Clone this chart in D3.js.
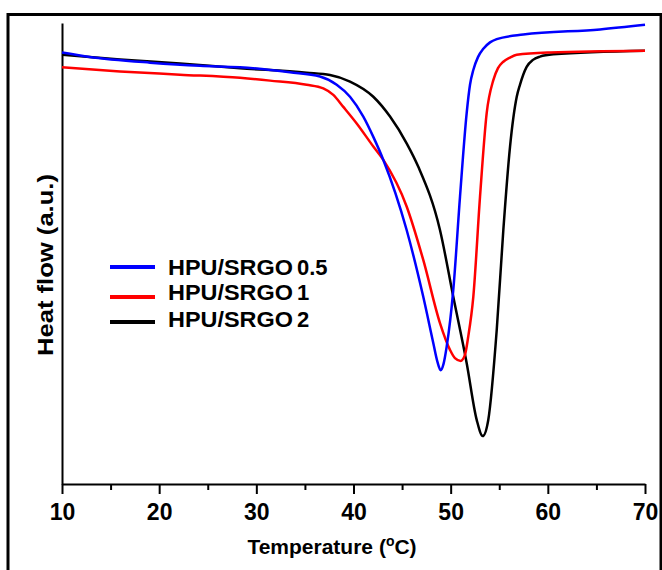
<!DOCTYPE html>
<html lang="en">
	<head>
		<meta charset="utf-8">
		<title>DSC curves</title>
		<script src="https://cdn.jsdelivr.net/npm/d3@7"></script>
		<style type="text/css">
			html, body {
				margin: 0;
				padding: 0;
				background-color: white;
			}
			text {
				font-family: "Liberation Sans", Arial, sans-serif;
				font-weight: bold;
			}
		</style>
	</head>
	<body>
		<script type="text/javascript">

			//Data (heat flow in arbitrary units, 0-100 across the axis)
			var labels = ["HPU/SRGO", "HPU/SRGO", "HPU/SRGO"];
			var loadings = ["0.5", "1", "2"];
			var xTicks = [10, 20, 30, 40, 50, 60, 70];
			var xMinorTicks = [15, 25, 35, 45, 55, 65];

			var temp05 = [10.00, 12.68, 19.06, 24.20, 28.32, 33.46, 36.55, 38.27, 39.64, 41.01, 42.04, 43.07, 45.47, 47.18, 48.21, 48.64, 48.97, 49.26, 49.59, 50.27, 50.96, 51.65, 51.99, 52.33, 52.81, 53.36, 54.05, 54.74, 57.47, 65.37, 70.00];
			var flow05 = [93.6, 92.7, 91.4, 90.7, 90.4, 89.3, 88.4, 86.6, 84.0, 79.7, 75.3, 70.3, 55.1, 40.6, 30.6, 26.5, 24.7, 26.0, 29.8, 42.1, 62.3, 80.5, 86.6, 89.8, 92.6, 94.4, 95.8, 96.5, 97.5, 98.6, 99.6];

			var temp1 = [10.00, 15.97, 22.14, 28.32, 31.41, 35.18, 36.89, 37.92, 38.95, 40.33, 42.04, 43.07, 45.47, 47.18, 48.90, 49.93, 50.44, 51.03, 51.47, 51.81, 52.33, 53.02, 53.71, 54.39, 54.87, 55.42, 56.11, 56.80, 60.22, 70.00];
			var flow1 = [90.4, 89.5, 88.8, 88.1, 87.5, 86.6, 85.8, 84.4, 81.8, 78.2, 73.2, 70.3, 60.2, 48.6, 34.9, 29.1, 27.3, 26.7, 28.0, 32.0, 40.6, 62.3, 80.5, 87.6, 90.2, 91.6, 92.5, 93.1, 93.6, 94.0];

			var temp2 = [10.00, 15.97, 22.14, 28.32, 35.18, 37.58, 39.64, 42.04, 43.76, 45.47, 46.67, 48.90, 50.27, 51.65, 52.68, 53.30, 53.87, 54.74, 55.42, 56.11, 56.80, 57.13, 57.82, 58.47, 59.19, 60.56, 70.00];
			var flow2 = [93.1, 92.1, 91.2, 90.2, 89.2, 88.7, 87.3, 84.0, 79.7, 73.9, 68.8, 55.1, 40.6, 26.2, 13.9, 10.4, 13.9, 33.4, 55.1, 73.2, 84.0, 86.6, 90.5, 92.0, 92.7, 93.2, 94.0];

			var colors = ["#0000ff", "#ff0000", "#000000"];

			//Width and height
			var w = 662;
			var h = 570;

			var svg = d3.select("body")
						.append("svg")
						.attr("width", w)
						.attr("height", h);

			//Outer frame
			svg.append("rect")
				.attr("x", 8)
				.attr("y", 14.5)
				.attr("width", 653)
				.attr("height", 600)
				.attr("fill", "none")
				.attr("stroke", "black")
				.attr("stroke-width", 3);

			var xScale = d3.scaleLinear()
							.domain([10, 70])
							.range([62, 645]);

			var yScale = d3.scaleLinear()
							.domain([0, 100])
							.range([484, 23]);

			//Minor ticks
			var xMinor = svg.append("g")
				.attr("transform", "translate(0,484)")
				.call(d3.axisBottom(xScale).tickValues(xMinorTicks).tickSize(6).tickSizeOuter(0).tickFormat(""));
			xMinor.select(".domain").remove();
			xMinor.selectAll("line").attr("stroke-width", 2);

			//Major ticks and labels
			var xAxis = svg.append("g")
				.attr("transform", "translate(0,484)")
				.call(d3.axisBottom(xScale).tickValues(xTicks).tickSize(10).tickSizeOuter(0));
			xAxis.select(".domain").attr("stroke-width", 2);
			xAxis.selectAll("line").attr("stroke-width", 2);
			xAxis.selectAll("text")
				.attr("y", 36)
				.attr("dy", null)
				.attr("font-size", "23px")
				.attr("font-family", "'Liberation Sans', Arial, sans-serif")
				.attr("font-weight", "bold")
				.attr("fill", "black");

			//Y axis, no ticks
			var yAxis = svg.append("g")
				.attr("transform", "translate(62,0)")
				.call(d3.axisLeft(yScale).tickValues([]).tickSizeOuter(0));
			yAxis.select(".domain").attr("stroke-width", 2);

			//Curves
			var line = d3.line()
				.x(function(d) { return xScale(d[0]); })
				.y(function(d) { return yScale(d[1]); })
				.curve(d3.curveMonotoneX);

			var series = [
				{ t: temp05, v: flow05, c: colors[0] },
				{ t: temp1, v: flow1, c: colors[1] },
				{ t: temp2, v: flow2, c: colors[2] }
			];

			//draw black first, blue last
			[2, 1, 0].forEach(function(i) {
				var s = series[i];
				var pts = s.t.map(function(t, k) { return [t, s.v[k]]; });
				svg.append("path")
					.datum(pts)
					.attr("d", line)
					.attr("fill", "none")
					.attr("stroke", s.c)
					.attr("stroke-width", 2.5);
			});

			//Legend
			var legendY = [267, 297, 322];
			var legend = svg.selectAll("g.legend")
				.data(loadings)
				.enter()
				.append("g")
				.attr("class", "legend")
				.attr("transform", function(d, i) { return "translate(0," + legendY[i] + ")"; });

			legend.append("line")
				.attr("x1", 110)
				.attr("x2", 155)
				.attr("stroke", function(d, i) { return colors[i]; })
				.attr("stroke-width", 4);

			legend.append("text")
				.attr("x", 168)
				.attr("y", function(d, i) { return [8, 3, 5][i]; })
				.attr("font-size", "22px")
				.attr("textLength", 125)
				.attr("lengthAdjust", "spacingAndGlyphs")
				.text(function(d, i) { return labels[i]; });

			legend.append("text")
				.attr("x", 297)
				.attr("y", function(d, i) { return [8, 3, 5][i]; })
				.attr("font-size", "22px")
				.text(function(d) { return d; });

			//Axis titles
			var xTitle = svg.append("text")
				.attr("x", 332)
				.attr("y", 554)
				.attr("text-anchor", "middle")
				.attr("font-size", "21px");
			xTitle.append("tspan").text("Temperature (");
			xTitle.append("tspan").attr("font-size", "14px").attr("dy", -8).text("o");
			xTitle.append("tspan").attr("dy", 8).text("C)");

			svg.append("text")
				.attr("transform", "translate(53,265) rotate(-90)")
				.attr("text-anchor", "middle")
				.attr("font-size", "22px")
				.attr("textLength", 182)
				.attr("lengthAdjust", "spacingAndGlyphs")
				.text("Heat flow (a.u.)");

		</script>
	</body>
</html>
